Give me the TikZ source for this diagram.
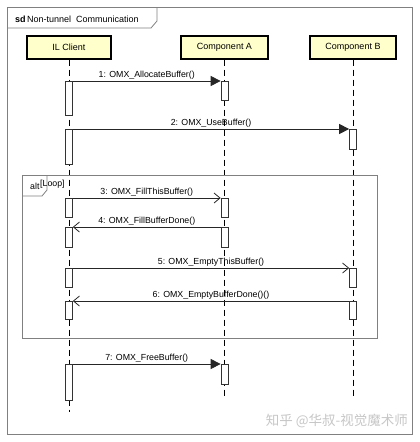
\documentclass[tikz,border=0pt]{standalone}
\usepackage{fontspec}
\setmainfont{Liberation Sans}
\newfontfamily\cjk{Noto Sans CJK SC}
\usetikzlibrary{arrows.meta}
\definecolor{headfill}{RGB}{255,255,204}
\definecolor{framegray}{RGB}{128,128,128}
\tikzset{
  head/.style={draw=black, line width=1.3pt, fill=headfill, minimum width=84pt, minimum height=23pt, inner sep=0pt, font=\fontsize{9}{10}\selectfont},
  lifeline/.style={draw=black, line width=0.8pt, dash pattern=on 6pt off 4pt},
  act/.style={draw=black!80, line width=0.7pt, fill=white, minimum width=7pt, inner sep=0pt, anchor=north},
  msgfilled/.style={draw=black!85, line width=0.8pt, -{Triangle[length=10pt,width=10pt]}},
  msgopen/.style={draw=black!85, line width=0.8pt, -{Straight Barb[length=6pt,width=10pt,line width=0.8pt]}},
  lbl/.style={font=\fontsize{8.8}{10}\selectfont, inner sep=1.5pt},
  frm/.style={draw=framegray, line width=0.8pt},
}
\begin{document}
\begin{tikzpicture}[x=1pt,y=-1pt]
\useasboundingbox (0,0) rectangle (420,442);
\fill[white] (0,0) rectangle (420,442);
% outer frame
\draw[frm] (7.5,7.5) rectangle (412,434);
\draw[frm] (7.5,28) -- (151,28) -- (157,21) -- (157,7.5);
\node[anchor=west, inner sep=0pt, font=\fontsize{9}{10}\selectfont] (title) at (15,19) {\textbf{sd}\,Non-tunnel\ \ Communication};
% heads
\node[head] (il) at (69,47.5) {IL Client};
\node[head, minimum width=87pt] (ca) at (224.5,47.5) {Component A};
\node[head, minimum width=86pt] (cb) at (353,47.5) {Component B};
\coordinate (ilend) at (69,412);
\coordinate (caend) at (224.5,396);
\coordinate (cbend) at (353,396);
\draw[lifeline] (il.south) -- (ilend);
\draw[lifeline] (ca.south) -- (caend);
\draw[lifeline] (cb.south) -- (cbend);
% alt frame
\draw[frm] (22,175) rectangle (377,338);
\draw[frm] (22,196) -- (42,196) -- (47,190) -- (47,175);
\node[anchor=west, inner sep=0pt, font=\fontsize{8.8}{10}\selectfont] (altl) at (30,186) {alt};
\node[anchor=west, inner sep=0pt, font=\fontsize{8.8}{10}\selectfont] (loopl) at (40,184) {[Loop]};
% activations
\node[act, minimum height=34pt] (il1) at (69,81) {};
\node[act, minimum height=19pt] (ca1) at (224.5,81) {};
\node[act, minimum height=35pt] (il2) at (69,129) {};
\node[act, minimum height=20pt] (cb2) at (353,129) {};
\node[act, minimum height=19pt] (il3) at (69,198) {};
\node[act, minimum height=19pt] (ca3) at (224.5,198) {};
\node[act, minimum height=20pt] (il4) at (69,227) {};
\node[act, minimum height=20pt] (ca4) at (224.5,227) {};
\node[act, minimum height=19pt] (il5) at (69,268) {};
\node[act, minimum height=19pt] (cb5) at (353,268) {};
\node[act, minimum height=18pt] (il6) at (69,301) {};
\node[act, minimum height=18pt] (cb6) at (353,301) {};
\node[act, minimum height=36pt] (il7) at (69,364) {};
\node[act, minimum height=20pt] (ca7) at (224.5,364) {};
% messages
\draw[msgfilled] (il1.north east) -- node[lbl, above] {1: OMX\_AllocateBuffer()} (ca1.north west);
\draw[msgfilled] (il2.north east) -- node[lbl, above] {2: OMX\_UseBuffer()} (cb2.north west);
\draw[msgopen] (il3.north east) -- node[lbl, above] {3: OMX\_FillThisBuffer()} (ca3.north west);
\draw[msgopen] (ca4.north west) -- node[lbl, above] {4: OMX\_FillBufferDone()} (il4.north east);
\draw[msgopen] (il5.north east) -- node[lbl, above] {5: OMX\_EmptyThisBuffer()} (cb5.north west);
\draw[msgopen] (cb6.north west) -- node[lbl, above] {6: OMX\_EmptyBufferDone()()} (il6.north east);
\draw[msgfilled] (il7.north east) -- node[lbl, above] {7: OMX\_FreeBuffer()} (ca7.north west);
% watermark
\node[anchor=east, inner sep=0pt, text=black!22, font=\cjk\fontsize{13.5}{15}\selectfont] (wm) at (408,421) {知乎 @华叔-视觉魔术师};
\end{tikzpicture}
\end{document}
